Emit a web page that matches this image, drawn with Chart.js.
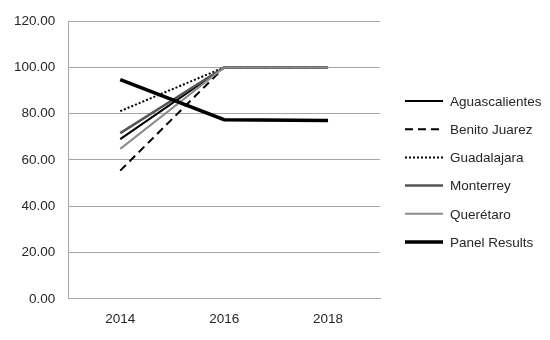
<!DOCTYPE html>
<html>
<head>
<meta charset="utf-8">
<script src="https://cdn.jsdelivr.net/npm/chart.js@4/dist/chart.umd.min.js"></script>
<style>
  html, body { margin: 0; padding: 0; background: #fff; }
  #wrap { width: 550px; height: 340px; }
</style>
</head>
<body>
<div id="wrap"><canvas id="c"></canvas></div>
<script>
// data
const years = ['2014', '2016', '2018'];
const aguascalientes = [69.0, 100, 100];
const benitoJuarez = [55.4, 100, 100];
const guadalajara = [81.1, 100, 100];
const monterrey = [71.6, 100, 100];
const queretaro = [64.8, 100, 100];
const panelResults = [94.7, 77.4, 77.0];

function line(label, data, color, width, dash) {
  return {
    label: label,
    data: data,
    borderColor: color,
    backgroundColor: color,
    borderWidth: width,
    borderDash: dash || [],
    pointRadius: 0,
    pointHoverRadius: 0,
    tension: 0,
    fill: false
  };
}

const datasets = [
  line('Aguascalientes', aguascalientes, '#000000', 2),
  line('Benito Juarez', benitoJuarez, '#000000', 2, [8, 5]),
  line('Guadalajara', guadalajara, '#000000', 2, [2, 2]),
  line('Monterrey', monterrey, '#555555', 2.5),
  line('Querétaro', queretaro, '#8c8c8c', 2),
  line('Panel Results', panelResults, '#000000', 3.5)
];
// later series drawn on top, like the original
datasets.forEach((d, i) => { d.order = datasets.length - 1 - i; });

const FONT = { family: 'Liberation Sans, Arial, sans-serif', size: 13.5 };

// legend drawn by hand so the dashed / dotted samples show like the original
const sideLegend = {
  id: 'sideLegend',
  afterDraw(chart) {
    const ctx = chart.ctx;
    const x0 = chart.chartArea.right + 25;
    const y0 = 101, step = 28.2;
    ctx.save();
    ctx.font = FONT.size + 'px ' + FONT.family;
    ctx.textBaseline = 'middle';
    chart.data.datasets.forEach((ds, i) => {
      const y = y0 + i * step;
      ctx.strokeStyle = ds.borderColor;
      ctx.lineWidth = ds.borderWidth;
      ctx.setLineDash(ds.borderDash);
      ctx.beginPath();
      ctx.moveTo(x0, y);
      ctx.lineTo(x0 + 38, y);
      ctx.stroke();
      ctx.setLineDash([]);
      ctx.fillStyle = '#262626';
      ctx.fillText(ds.label, x0 + 45, y + 1);
    });
    ctx.restore();
  }
};

new Chart(document.getElementById('c'), {
  type: 'line',
  data: { labels: years, datasets: datasets },
  plugins: [sideLegend],
  options: {
    responsive: true,
    maintainAspectRatio: false,
    animation: false,
    layout: { padding: { top: 20, right: 170, left: 1, bottom: 9 } },
    plugins: {
      tooltip: { enabled: false },
      legend: { display: false }
    },
    scales: {
      x: {
        offset: true,
        grid: { display: false },
        border: { display: true, color: '#a6a6a6', width: 1 },
        ticks: { color: '#262626', font: FONT, padding: 4 }
      },
      y: {
        min: 0,
        max: 120,
        ticks: {
          stepSize: 20,
          color: '#262626',
          font: FONT,
          padding: 13,
          callback: v => v.toFixed(2)
        },
        grid: { color: '#a6a6a6', lineWidth: 1, drawTicks: false },
        border: { display: true, color: '#a6a6a6', width: 1 }
      }
    }
  }
});
</script>
</body>
</html>
